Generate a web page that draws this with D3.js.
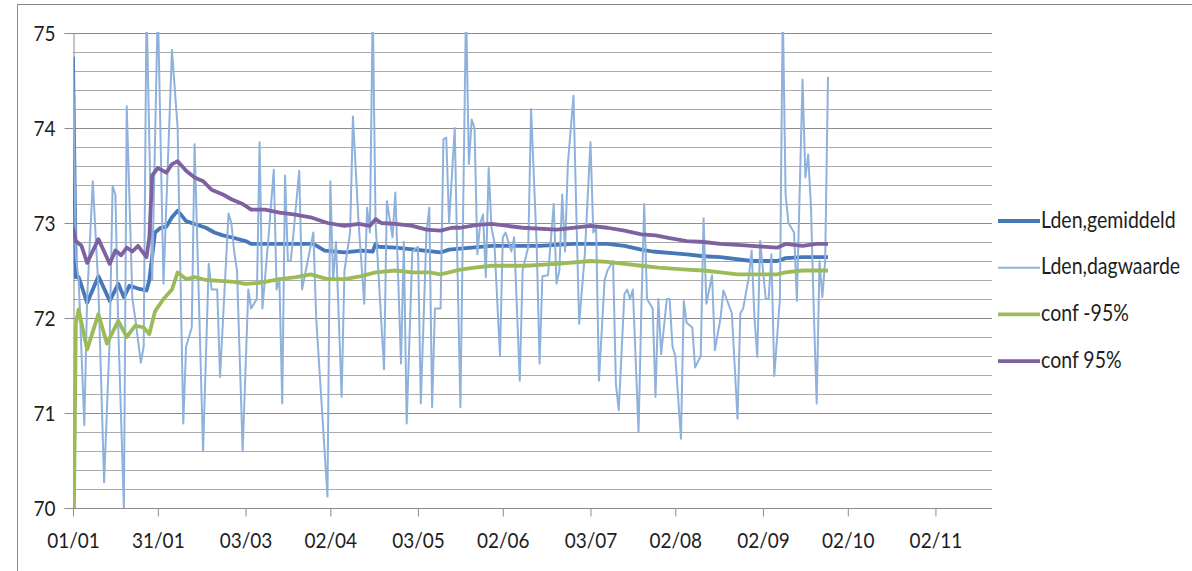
<!DOCTYPE html>
<html>
<head>
<meta charset="utf-8">
<script src="https://cdn.jsdelivr.net/npm/d3@7/dist/d3.min.js"></script>
<style>
  html, body { margin: 0; padding: 0; background: #fff; }
  svg { display: block; }
  text { font-family: Lato, "Noto Sans", sans-serif; fill: #1e1e1e; }
</style>
</head>
<body>
<svg id="chart" width="1192" height="571"></svg>
<script>
// Year of the measurements and x-axis tick labels (dd/mm)
const year = 2013;
const xTickLabels = ["01/01", "31/01", "03/03", "02/04", "03/05", "02/06", "03/07", "02/08", "02/09", "02/10", "02/11"];
const xAxisEnd = "22/11";
const yTickValues = [70, 71, 72, 73, 74, 75];

// Series names as shown in the legend
const seriesNames = ["Lden,gemiddeld", "Lden,dagwaarde", "conf -95%", "conf 95%"];

// Daily Lden values: [day of year (0 = 01/01), dB]
const ldenDag = [
  [0,74.75],[1,72.65],[2,72.4],[4,70.87],[5,72.2],[7,73.44],[9,72.3],[11,70.27],[13,71.8],[14,73.39],
  [15,73.3],[16,71.9],[18,70.0],[19,74.23],[21,72.2],[22,72.0],[24,71.53],[25,71.7],[26,75.3],[28,72.4],
  [30,75.3],[32,72.36],[35,74.82],[37,74.0],[39,70.89],[40,71.7],[42,71.9],[43,73.83],[46,70.6],[48,72.57],
  [49,72.3],[51,72.3],[52,71.38],[55,73.1],[56,73.0],[57,72.7],[58,72.5],[60,70.6],[62,72.3],[63,72.1],
  [65,72.2],[66,73.85],[67,72.1],[69,72.8],[71,73.56],[72,72.3],[73,72.4],[74,71.1],[75,73.5],[76,72.6],
  [77,72.6],[78,72.9],[80,73.55],[81,72.3],[83,72.6],[85,72.9],[86,72.0],[90,70.12],[91,73.44],[92,72.4],
  [93,72.8],[95,71.17],[96,72.5],[98,72.9],[99,74.12],[101,73.0],[103,72.15],[104,73.16],[105,72.9],[106,75.3],
  [107,73.0],[110,71.46],[111,73.23],[113,72.85],[114,73.32],[116,71.52],[117,72.8],[118,70.89],[120,72.7],[122,72.75],
  [123,71.1],[125,72.9],[126,73.16],[127,71.06],[128,72.1],[130,72.1],[131,73.88],[132,73.9],[133,73.0],[135,74.0],
  [136,72.5],[137,71.06],[139,75.3],[140,73.62],[141,74.09],[142,74.0],[143,72.67],[144,73.0],[145,73.09],[146,72.43],
  [147,73.58],[148,72.95],[149,72.8],[151,71.6],[152,72.85],[153,72.9],[155,72.7],[156,72.85],[158,71.34],[159,72.5],
  [161,72.75],[162,74.2],[164,72.75],[165,71.52],[166,72.44],[168,72.45],[170,73.2],[171,72.36],[172,72.5],[173,73.3],
  [174,72.7],[175,73.62],[177,74.34],[178,73.1],[179,71.94],[181,72.67],[183,73.85],[184,72.9],[185,72.95],[186,71.34],
  [188,72.4],[189,72.5],[191,72.6],[192,71.3],[193,71.03],[195,72.25],[196,72.3],[197,72.2],[198,72.3],[200,70.8],
  [201,72.1],[202,73.2],[203,72.2],[205,72.1],[206,71.17],[207,72.2],[208,71.62],[210,72.2],[211,72.2],[212,71.7],
  [213,71.6],[215,70.73],[216,72.18],[217,71.95],[219,71.9],[220,71.48],[222,71.6],[223,73.05],[224,72.15],[226,72.45],
  [227,71.66],[229,72.0],[230,72.29],[233,72.05],[235,70.94],[236,72.05],[237,72.1],[239,72.43],[240,72.71],[241,72.0],
  [242,71.59],[243,72.81],[245,72.2],[246,72.2],[247,72.67],[248,71.39],[250,72.2],[251,75.3],[252,73.3],[253,73.0],
  [255,72.9],[256,72.18],[258,74.51],[259,73.48],[260,73.72],[261,73.15],[262,72.05],[263,71.1],[264,72.6],[265,72.22],
  [266,72.6],[267,74.54]
];

// Running mean of Lden
const ldenGem = [
  [0,74.75],[1,72.43],[2,72.43],[5,72.16],[9,72.44],[13,72.18],[16,72.36],[18,72.22],[20,72.34],[23,72.31],
  [26,72.29],[27,72.4],[29,72.9],[31,72.95],[33,72.96],[35,73.06],[37,73.13],[40,73.02],[43,72.99],[47,72.95],
  [50,72.9],[53,72.87],[56,72.85],[61,72.81],[63,72.78],[68,72.78],[85,72.78],[89,72.71],[96,72.69],[102,72.71],
  [106,72.7],[107,72.78],[108,72.75],[114,72.74],[121,72.72],[130,72.69],[133,72.72],[148,72.76],[165,72.76],[177,72.78],
  [189,72.78],[195,72.76],[201,72.72],[205,72.7],[217,72.67],[223,72.65],[229,72.64],[240,72.6],[249,72.6],[252,72.63],
  [258,72.64],[267,72.64]
];

// Lower 95% confidence bound of the running mean
const confLow = [
  [0,69.0],[1,71.94],[2,72.09],[5,71.67],[9,72.04],[12,71.73],[16,71.97],[19,71.8],[22,71.92],[25,71.9],
  [27,71.83],[29,72.07],[32,72.2],[35,72.3],[37,72.48],[40,72.41],[43,72.43],[47,72.4],[52,72.39],[57,72.38],
  [61,72.36],[66,72.37],[73,72.41],[79,72.43],[84,72.46],[90,72.41],[96,72.41],[102,72.44],[107,72.48],[114,72.5],
  [120,72.48],[126,72.48],[130,72.46],[137,72.51],[142,72.53],[148,72.55],[160,72.55],[171,72.57],[183,72.6],[189,72.59],
  [195,72.57],[201,72.55],[207,72.53],[217,72.51],[223,72.5],[229,72.48],[235,72.46],[241,72.46],[249,72.46],[252,72.48],
  [258,72.5],[267,72.5]
];

// Upper 95% confidence bound of the running mean
const confHigh = [
  [0,72.95],[1,72.81],[3,72.76],[5,72.58],[9,72.83],[13,72.57],[15,72.71],[17,72.66],[19,72.74],[21,72.7],
  [23,72.76],[26,72.64],[27,72.85],[28,73.5],[30,73.58],[33,73.53],[35,73.62],[37,73.65],[40,73.55],[43,73.48],
  [46,73.44],[49,73.35],[53,73.3],[56,73.25],[60,73.2],[63,73.14],[68,73.14],[73,73.11],[78,73.09],[84,73.06],
  [90,73.0],[96,72.97],[101,72.99],[105,72.97],[107,73.04],[109,73.0],[114,72.99],[120,72.97],[125,72.93],[130,72.92],
  [134,72.95],[137,72.95],[143,72.98],[148,72.99],[159,72.95],[171,72.93],[183,72.97],[189,72.95],[195,72.92],[201,72.88],
  [206,72.87],[211,72.84],[217,72.81],[223,72.8],[229,72.78],[235,72.77],[240,72.76],[249,72.74],[252,72.78],[258,72.76],
  [263,72.78],[267,72.78]
];

// ---- drawing ----
const svg = d3.select("#chart");
const plot = { left: 73, right: 992, top: 33, bottom: 508 };
const textStretch = 1.15;   // tall, narrow label lettering

const parseDay = d3.timeParse("%d/%m/%Y");
const toDate = s => parseDay(s + "/" + year);
const start = toDate(xTickLabels[0]);
const dayToDate = d => d3.timeDay.offset(start, d);

const x = d3.scaleTime()
  .domain([start, toDate(xAxisEnd)])
  .range([plot.left, plot.right]);
const y = d3.scaleLinear()
  .domain([d3.min(yTickValues), d3.max(yTickValues)])
  .range([plot.bottom, plot.top]);

// Outer chart frame
svg.append("rect")
  .attr("x", 17.5).attr("y", 4.5)
  .attr("width", 1190).attr("height", 600)
  .attr("fill", "none").attr("stroke", "#8a8a8a").attr("stroke-width", 1);

// Horizontal gridlines every 0.2 dB
const gridValues = d3.range(0, 26).map(i => 70 + i * 0.2);
svg.append("g")
  .selectAll("line")
  .data(gridValues)
  .join("line")
  .attr("x1", plot.left).attr("x2", plot.right)
  .attr("y1", d => Math.round(y(d)) + 0.5).attr("y2", d => Math.round(y(d)) + 0.5)
  .attr("stroke", (d, i) => i % 5 === 0 ? "#8c8c8c" : "#ababab")
  .attr("stroke-width", 1);

// Y axis
const yAxis = d3.axisLeft(y).tickValues(yTickValues).tickSize(9).tickPadding(9).tickFormat(d3.format("d"));
const gy = svg.append("g").attr("transform", `translate(${plot.left + 0.5},0)`).call(yAxis);
gy.select(".domain").attr("stroke", "#8c8c8c");
gy.selectAll(".tick line").attr("stroke", "#8c8c8c");
gy.selectAll(".tick text")
  .style("font-size", "19px")
  .attr("dy", "0.36em")
  .attr("transform", `scale(1,${textStretch})`)
  .attr("fill", "#1e1e1e");

// X axis
const xAxis = d3.axisBottom(x)
  .tickValues(xTickLabels.map(toDate))
  .tickSize(8).tickPadding(13)
  .tickFormat(d3.timeFormat("%d/%m"));
const gx = svg.append("g").attr("transform", `translate(0,${plot.bottom + 0.5})`).call(xAxis);
gx.select(".domain").attr("stroke", "#8c8c8c").attr("d", `M${plot.left},0H${plot.right}`);
gx.selectAll(".tick line").attr("stroke", "#8c8c8c");
gx.selectAll(".tick text")
  .style("font-size", "19px")
  .attr("transform", `scale(1,${textStretch})`)
  .attr("fill", "#1e1e1e");

// Clip lines to the plot area
svg.append("clipPath").attr("id", "plot-clip")
  .append("rect")
  .attr("x", plot.left).attr("y", plot.top - 1)
  .attr("width", plot.right - plot.left).attr("height", plot.bottom - plot.top + 1);

const line = d3.line()
  .x(d => x(dayToDate(d[0])))
  .y(d => y(d[1]));

const series = [
  { name: seriesNames[0], data: ldenGem,  color: "#4677b8", width: 3.8 },
  { name: seriesNames[1], data: ldenDag,  color: "#8fb2dc", width: 2 },
  { name: seriesNames[2], data: confLow,  color: "#9bbb59", width: 3.8 },
  { name: seriesNames[3], data: confHigh, color: "#7e61a0", width: 3.8 }
];

const lines = svg.append("g").attr("clip-path", "url(#plot-clip)");
series.forEach(s => {
  lines.append("path")
    .datum(s.data)
    .attr("d", line)
    .attr("fill", "none")
    .attr("stroke", s.color)
    .attr("stroke-width", s.width)
    .attr("stroke-linejoin", "round");
});

// Legend
const legend = svg.append("g").attr("transform", "translate(998,221)");
series.forEach((s, i) => {
  const g = legend.append("g").attr("transform", `translate(0,${i * 46.7})`);
  g.append("line")
    .attr("x1", 0).attr("x2", 42)
    .attr("y1", 0).attr("y2", 0)
    .attr("stroke", s.color)
    .attr("stroke-width", s.width);
  g.append("text")
    .attr("transform", `translate(43,0) scale(1,${textStretch})`)
    .attr("dy", "0.3em")
    .style("font-size", "19.5px")
    .text(s.name);
});
</script>
</body>
</html>
